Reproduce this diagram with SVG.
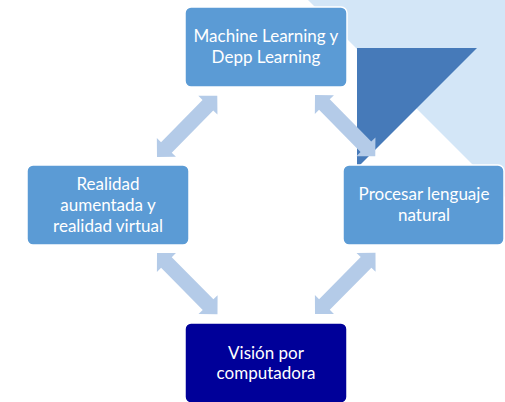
<svg xmlns="http://www.w3.org/2000/svg" xmlns:xlink="http://www.w3.org/1999/xlink" width="505" height="402" viewBox="0 0 505 402">
<style>
.box{fill:#5B9BD5;stroke:#FFFFFF;stroke-width:1.5}
.dark{fill:#000099;stroke:#FFFFFF;stroke-width:1.5}
.lbl{font-family:Lato,"Open Sans","Liberation Sans",sans-serif;font-size:17px;fill:#FFFFFF;text-anchor:middle}
.arr{fill:#B4CBE8}
</style>
<defs>
<polygon id="darrow" points="0,0 13.4,-13.4 13.4,-7.5 72.6,-7.5 72.6,-13.4 86,0 72.6,13.4 72.6,7.5 13.4,7.5 13.4,13.4"/>
</defs>
<g id="background">
<polygon points="308,0 505,0 505,197" fill="#D3E6F7"/>
<polygon points="357,48 477,48 357,168" fill="#467AB9"/>
</g>
<g id="connectors" class="arr">
<use xlink:href="#darrow" href="#darrow" transform="translate(157,157) rotate(-45.5)"/>
<use xlink:href="#darrow" href="#darrow" transform="translate(315,95) rotate(45.5)"/>
<use xlink:href="#darrow" href="#darrow" transform="translate(157,253) rotate(45.3)"/>
<use xlink:href="#darrow" href="#darrow" transform="translate(315,314) rotate(-45.3)"/>
</g>
<g id="node-ml">
<rect class="box" x="185" y="7" width="162" height="80" rx="6"/>
<text class="lbl" x="266" y="42">Machine Learning y</text>
<text class="lbl" x="266" y="63">Depp Learning</text>
</g>
<g id="node-ra">
<rect class="box" x="27" y="165" width="162" height="80" rx="6"/>
<text class="lbl" x="108" y="190">Realidad</text>
<text class="lbl" x="108" y="211">aumentada y</text>
<text class="lbl" x="108" y="232">realidad virtual</text>
</g>
<g id="node-pln">
<rect class="box" x="343" y="165" width="161" height="80" rx="6"/>
<text class="lbl" x="424" y="200">Procesar lenguaje</text>
<text class="lbl" x="424" y="221">natural</text>
</g>
<g id="node-vision">
<rect class="dark" x="185" y="323" width="162" height="80" rx="6"/>
<text class="lbl" x="266" y="359">Visión por</text>
<text class="lbl" x="266" y="379">computadora</text>
</g>
</svg>
